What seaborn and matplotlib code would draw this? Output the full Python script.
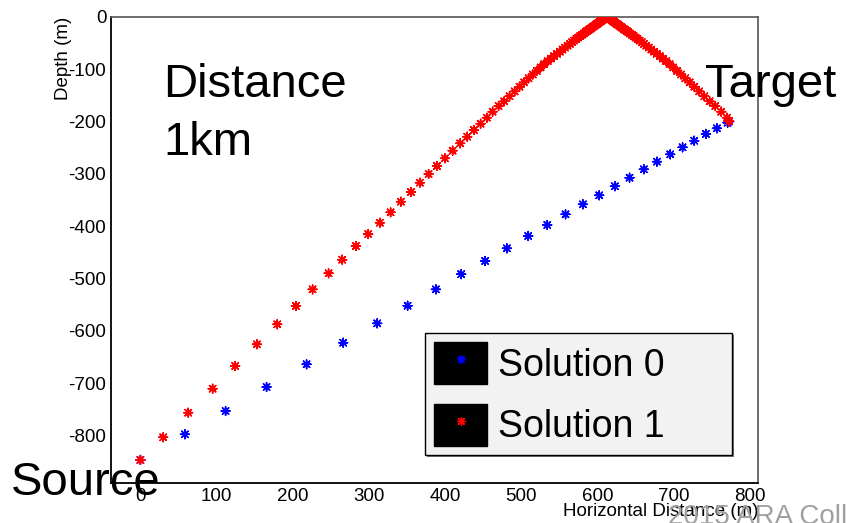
import matplotlib
matplotlib.use("Agg")
import matplotlib.pyplot as plt
import matplotlib.patheffects as pe
import seaborn as sns
import pandas as pd
from matplotlib.patches import Patch
from matplotlib.lines import Line2D
from matplotlib.legend_handler import HandlerTuple
from matplotlib.ticker import MultipleLocator

# ---------------- data ----------------
series_names = ["Solution 0", "Solution 1"]

blue_x = [0.0, 58.4, 111.8, 165.6, 218.1, 266.2, 310.8, 350.7, 387.8, 421.0,
          452.5, 481.0, 509.0, 534.0, 558.0, 580.8, 602.2, 622.8, 642.0, 660.8,
          678.0, 695.4, 711.6, 726.9, 742.2, 756.7, 770.7, 772.8]
blue_depth = [-847.0, -798.0, -753.5, -707.6, -664.2, -623.0, -586.0, -552.3, -521.0, -492.0,
              -466.8, -442.6, -419.0, -398.0, -377.6, -358.5, -341.3, -324.0, -307.7, -291.6,
              -277.0, -263.0, -249.6, -237.0, -224.0, -213.3, -202.6, -200.0]

red_x = [0.0, 29.9, 62.7, 94.8, 124.4, 152.9, 179.6, 204.1, 226.0, 247.0,
         264.9, 282.8, 299.0, 314.3, 328.4, 341.9, 355.0, 366.8, 378.3, 389.2,
         399.7, 409.8, 419.7, 428.9, 437.7, 446.5, 454.8, 462.3, 470.1, 477.5,
         484.5, 491.2, 497.6, 503.7, 509.5, 515.0, 520.2, 525.2, 530.0, 534.5,
         538.8, 542.9, 546.8, 550.5, 554.0, 557.4, 560.6, 563.7, 566.6, 569.4,
         572.1, 574.7, 577.2, 579.6, 581.9, 584.1, 586.2, 588.3, 590.3, 592.2,
         594.1, 595.9, 597.7, 599.4, 601.1, 602.7, 604.3, 605.8, 607.3, 608.7,
         610.1, 611.5, 612.3,
         613.1, 614.5, 615.9, 617.3, 618.8, 620.3, 621.9, 623.5, 625.2, 626.9,
         628.7, 630.5, 632.4, 634.3, 636.3, 638.4, 640.5, 642.7, 645.0, 647.4,
         649.9, 652.5, 655.2, 658.0, 660.9, 664.0, 667.2, 670.6, 674.1, 677.8,
         681.7, 685.8, 690.1, 694.6, 699.4, 704.4, 709.6, 715.1, 720.9, 727.0,
         733.4, 740.1, 747.1, 754.5, 762.3, 769.8, 772.8]
red_depth = [-847.0, -803.7, -756.7, -710.9, -667.5, -626.0, -587.8, -552.8, -521.0, -490.3,
             -464.4, -438.2, -415.3, -393.7, -373.8, -353.5, -335.0, -317.2, -300.6, -285.3,
             -270.6, -256.0, -242.0, -229.3, -216.5, -204.5, -193.0, -181.5, -170.6, -161.7,
             -152.0, -142.7, -133.8, -125.5, -117.7, -110.4, -103.5, -97.0, -90.8, -85.0,
             -80.1, -75.4, -71.0, -66.8, -62.8, -59.0, -55.4, -51.9, -48.7, -45.6,
             -42.6, -39.8, -37.1, -34.5, -32.1, -29.7, -27.5, -25.2, -23.1, -21.1,
             -19.1, -17.2, -15.3, -13.5, -11.7, -10.0, -8.4, -6.8, -5.2, -3.8,
             -2.3, -0.9, -0.2,
             -0.9, -2.3, -3.8, -5.2, -6.8, -8.4, -10.0, -11.7, -13.5, -15.3,
             -17.2, -19.1, -21.1, -23.1, -25.2, -27.5, -29.7, -32.1, -34.5, -37.1,
             -39.8, -42.6, -45.6, -48.7, -51.9, -55.4, -59.0, -62.8, -66.8, -71.0,
             -75.4, -80.1, -85.0, -90.8, -97.0, -103.5, -110.4, -117.7, -125.5, -133.8,
             -142.7, -152.0, -161.7, -170.6, -181.5, -193.0, -200.0]

x_ticks = [0, 100, 200, 300, 400, 500, 600, 700, 800]
y_ticks = [0, -100, -200, -300, -400, -500, -600, -700, -800]
x_range = (-39, 811)
y_range = (-890.5, 0)

series_colors = {"Solution 0": "#0000ff", "Solution 1": "#ff0000"}

df = pd.DataFrame({
    "x": blue_x + red_x,
    "depth": blue_depth + red_depth,
    "solution": [series_names[0]] * len(blue_x) + [series_names[1]] * len(red_x),
})

# ---------------- style ----------------
sns.set_style("white")
plt.rcParams["font.family"] = ["Liberation Sans", "DejaVu Sans"]
plt.rcParams["axes.unicode_minus"] = False
for k in ["text.color", "axes.labelcolor", "xtick.color", "ytick.color"]:
    plt.rcParams[k] = "black"

W, H = 846, 523
fig = plt.figure(figsize=(W / 100, H / 100), dpi=100)
L, R, T, B = 110.7, 758.3, 16.7, 482.7
ax = fig.add_axes([L / W, 1 - B / H, (R - L) / W, (B - T) / H])

ast = (8, 2, 0)
sns.scatterplot(data=df, x="x", y="depth", hue="solution", palette=series_colors,
                marker=ast, s=40, linewidth=1.1, ax=ax, legend=False, zorder=3)

ax.set_xlim(*x_range)
ax.set_ylim(*y_range)
ax.set_xticks(x_ticks)
ax.set_yticks(y_ticks)
ax.xaxis.set_minor_locator(MultipleLocator(20))
ax.yaxis.set_minor_locator(MultipleLocator(20))
ax.set_xticklabels([str(v) for v in x_ticks])
ax.set_yticklabels([str(v) for v in y_ticks])

ax.tick_params(axis="both", which="both", direction="in", top=False, right=False,
               colors="black", labelsize=13.5, labelcolor="black")
ax.tick_params(axis="y", which="major", length=14, width=1, pad=3.2)
ax.tick_params(axis="y", which="minor", length=6.5, width=1)
ax.tick_params(axis="x", which="major", length=9.5, width=1, pad=4)
ax.tick_params(axis="x", which="minor", length=5, width=1)

for side in ["left", "bottom"]:
    ax.spines[side].set_color("black")
    ax.spines[side].set_linewidth(1.3)
for side in ["top", "right"]:
    ax.spines[side].set_color("#555555")
    ax.spines[side].set_linewidth(1.2)

ax.set_xlabel("Horizontal Distance (m)", fontsize=13.5, ha="right", va="top", color="black")
ax.xaxis.set_label_coords(1.0, -0.044)
ax.set_ylabel("Depth (m)", fontsize=13.5, ha="right", va="bottom", color="black")
ax.yaxis.set_label_coords(-0.060, 1.0)

# ---------------- legend ----------------
fs = 27
fs_px = fs * 100 / 72
hh = (42 - 0.245 * fs_px) / (0.65 * fs_px)
handles = [(Patch(facecolor="black", edgecolor="black"),
            Line2D([], [], marker=ast, linestyle="none", color=series_colors[n],
                   markersize=6.3, markeredgewidth=1.0)) for n in series_names]
lx0 = (425 - L) / (R - L)
ly0 = (B - 456) / (B - T)
lw = (732 - 425) / (R - L)
lh = (456 - 333) / (B - T)
leg = ax.legend(handles, series_names, handler_map={tuple: HandlerTuple(ndivide=1)},
                loc="upper left", mode="expand",
                bbox_to_anchor=(lx0, ly0, lw, lh),
                fontsize=fs, handlelength=53 / fs_px, handleheight=hh,
                handletextpad=11 / fs_px, labelspacing=0.52, borderpad=0.25,
                borderaxespad=0, frameon=True, fancybox=False, framealpha=1,
                facecolor="#f2f2f2", edgecolor="black", labelcolor="black")
leg.get_frame().set_linewidth(1.0)
leg.get_frame().set_path_effects([
    pe.SimplePatchShadow(offset=(1.5, -1.5), shadow_rgbFace="#777777", alpha=1.0),
    pe.Normal()])

# ---------------- annotations ----------------
def ftext(px, py, s, **kw):
    fig.text(px / W, 1 - py / H, s, va="baseline", ha="left", **kw)

ftext(163, 97, "Distance", fontsize=34, color="black")
ftext(163, 155, "1km", fontsize=34, color="black")
ftext(705, 97, "Target", fontsize=34, color="black")
ftext(11, 495, "Source", fontsize=34, color="black")
ftext(668, 524, "2015 ARA Collaboration", fontsize=20, color="#a0a0a0", zorder=0)

fig.savefig("out.png", dpi=100)
